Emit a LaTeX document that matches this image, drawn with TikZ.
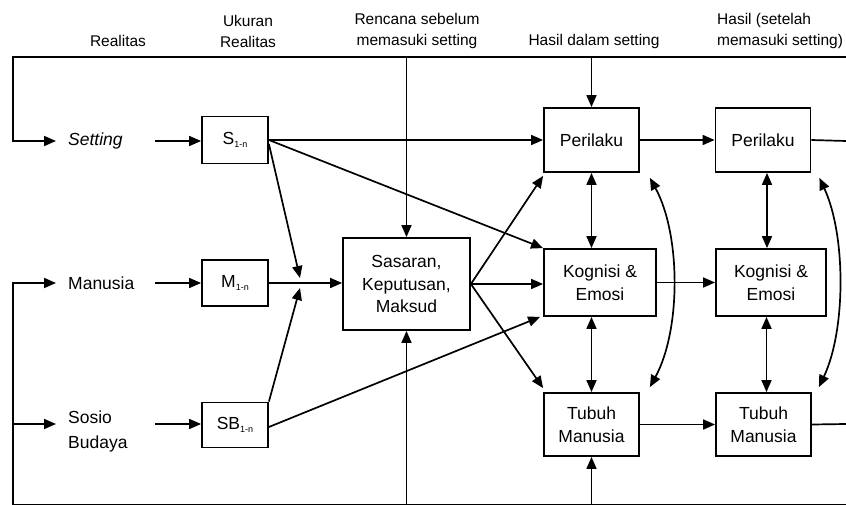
\documentclass[tikz,border=0pt]{standalone}
\usepackage{fontspec}
\setmainfont{Liberation Sans}
\usetikzlibrary{arrows.meta}
\newcommand{\subn}[1]{\raisebox{-0.35ex}{\fontsize{9}{9}\selectfont #1}}
\begin{document}
\begin{tikzpicture}[x=1pt,y=-1pt,
  ln/.style={line width=1.7pt},
  arr/.style={ln,-{Triangle[length=12pt,width=10pt]}},
  darr/.style={ln,{Triangle[length=12pt,width=10pt]}-{Triangle[length=12pt,width=10pt]}},
  bx/.style={draw,line width=1.8pt,inner sep=0pt,align=center,font=\fontsize{17.5}{22.5}\selectfont},
  lbl/.style={font=\fontsize{17.5}{25}\selectfont,inner sep=0pt,align=left},
  toplbl/.style={font=\fontsize{15.5}{21}\selectfont,inner sep=0pt,align=center}]
\useasboundingbox (0,0) rectangle (846,505);

% top labels
\node[toplbl] (tRe) at (118,41) {Realitas};
\node[toplbl] (tUk) at (248,31) {Ukuran\\Realitas};
\node[toplbl] (tRen) at (417,31) {Rencana sebelum\\memasuki setting};
\node[toplbl] (tHd) at (594,41) {Hasil dalam setting};
\node[toplbl,align=left,anchor=west] (tHs) at (717,31) {Hasil (setelah\\memasuki setting)};

% row labels
\node[lbl,anchor=west] (lSet) at (68,141) {\itshape Setting};
\node[lbl,anchor=west] (lMan) at (68,283) {Manusia};
\node[lbl,anchor=west] (lSB) at (68,431) {Sosio\\Budaya};

% measure boxes
\node[bx,minimum width=66pt,minimum height=47pt] (S) at (235,140) {S\subn{1-n}};
\node[bx,minimum width=66pt,minimum height=46pt] (M) at (235,283) {M\subn{1-n}};
\node[bx,minimum width=66pt,minimum height=45pt] (SB) at (235,425) {SB\subn{1-n}};

% plan box
\node[bx,minimum width=127pt,minimum height=92pt] (Sas) at (406.5,284) {Sasaran,\\Keputusan,\\Maksud};

% outcome boxes
\node[bx,minimum width=95pt,minimum height=64pt] (P1) at (591.5,140) {Perilaku};
\node[bx,minimum width=112pt,minimum height=67pt] (K1) at (600,282.5) {Kognisi \&\\Emosi};
\node[bx,minimum width=95pt,minimum height=63pt] (T1) at (591.5,424.5) {Tubuh\\Manusia};
\node[bx,minimum width=95pt,minimum height=64pt] (P2) at (763,140) {Perilaku};
\node[bx,minimum width=110pt,minimum height=67pt] (K2) at (771,282.5) {Kognisi \&\\Emosi};
\node[bx,minimum width=95pt,minimum height=63pt] (T2) at (763.5,424.5) {Tubuh\\Manusia};

% coordinates
\coordinate (tl) at (13,57);
\coordinate (tr) at (846,57);
\coordinate (bl) at (13,505);
\coordinate (br) at (846,505);
\coordinate (setA) at (56,141);
\coordinate (manA) at (56,283);
\coordinate (sbA) at (56,424);
\coordinate (setB) at (155,141);
\coordinate (manB) at (155,283);
\coordinate (sbB) at (155,424);
\coordinate (J1) at (300,278);
\coordinate (J2) at (300,288);
\coordinate (Pout) at (846,141);
\coordinate (Tout) at (846,424);

% frame lines
\draw[arr] (tr) -- (tl) |- (setA);
\draw[ln] (bl) -- (br);
\draw[arr] (bl) |- (manA);
\draw[arr] (bl |- sbA) -- (sbA);
\draw[arr] (Sas.north |- tl) -- (Sas.north);
\draw[arr] (P1.north |- tl) -- (P1.north);
\draw[arr] (Sas.south |- bl) -- (Sas.south);
\draw[arr] (T1.south |- bl) -- (T1.south);

% labels to boxes
\draw[arr] (setB) -- (setB -| S.west);
\draw[arr] (manB) -- (manB -| M.west);
\draw[arr] (sbB) -- (sbB -| SB.west);

% measures to plan
\draw[arr] ([yshift=-4pt]S.east) -- (J1);
\draw[arr] (SB.north east) -- (J2);
\draw[arr] (M.east) -- (Sas.west |- M.east);

% measures to outcomes
\draw[arr] (S.east) -- (P1.west |- S.east);
\draw[arr] (S.east) -- (K1.north west);
\draw[arr] ([yshift=-2pt]SB.east) -- ([xshift=-3pt]K1.south west);

% plan to outcomes
\draw[arr] (Sas.east) -- ([yshift=-3pt]P1.south west);
\draw[arr] (Sas.east) -- (Sas.east -| K1.west);
\draw[arr] (Sas.east) -- ([yshift=4pt]T1.north west);

% within setting
\draw[darr] (P1.south) -- (P1.south |- K1.north);
\draw[darr] (T1.north |- K1.south) -- (T1.north);
\draw[darr] ([shift={(10pt,-5pt)}]P1.south east) .. controls (681,235) and (681,330) .. ([shift={(10pt,5pt)}]T1.north east);

% to after setting
\draw[arr] (P1.east) -- (P2.west |- P1.east);
\draw[arr] (K1.east) -- (K2.west |- K1.east);
\draw[arr] (T1.east) -- (T2.west |- T1.east);
\draw[ln] (P2.east) -- (Pout);
\draw[ln] (T2.east) -- (Tout);

% after setting internal
\draw[darr] ([xshift=4pt]P2.south) -- ([xshift=4pt]P2.south |- K2.north);
\draw[darr] ([xshift=3pt]T2.north |- K2.south) -- ([xshift=3pt]T2.north);
\draw[darr] ([shift={(8pt,-5pt)}]P2.south east) .. controls (846,235) and (846,330) .. ([shift={(7pt,5pt)}]T2.north east);
\end{tikzpicture}
\end{document}
